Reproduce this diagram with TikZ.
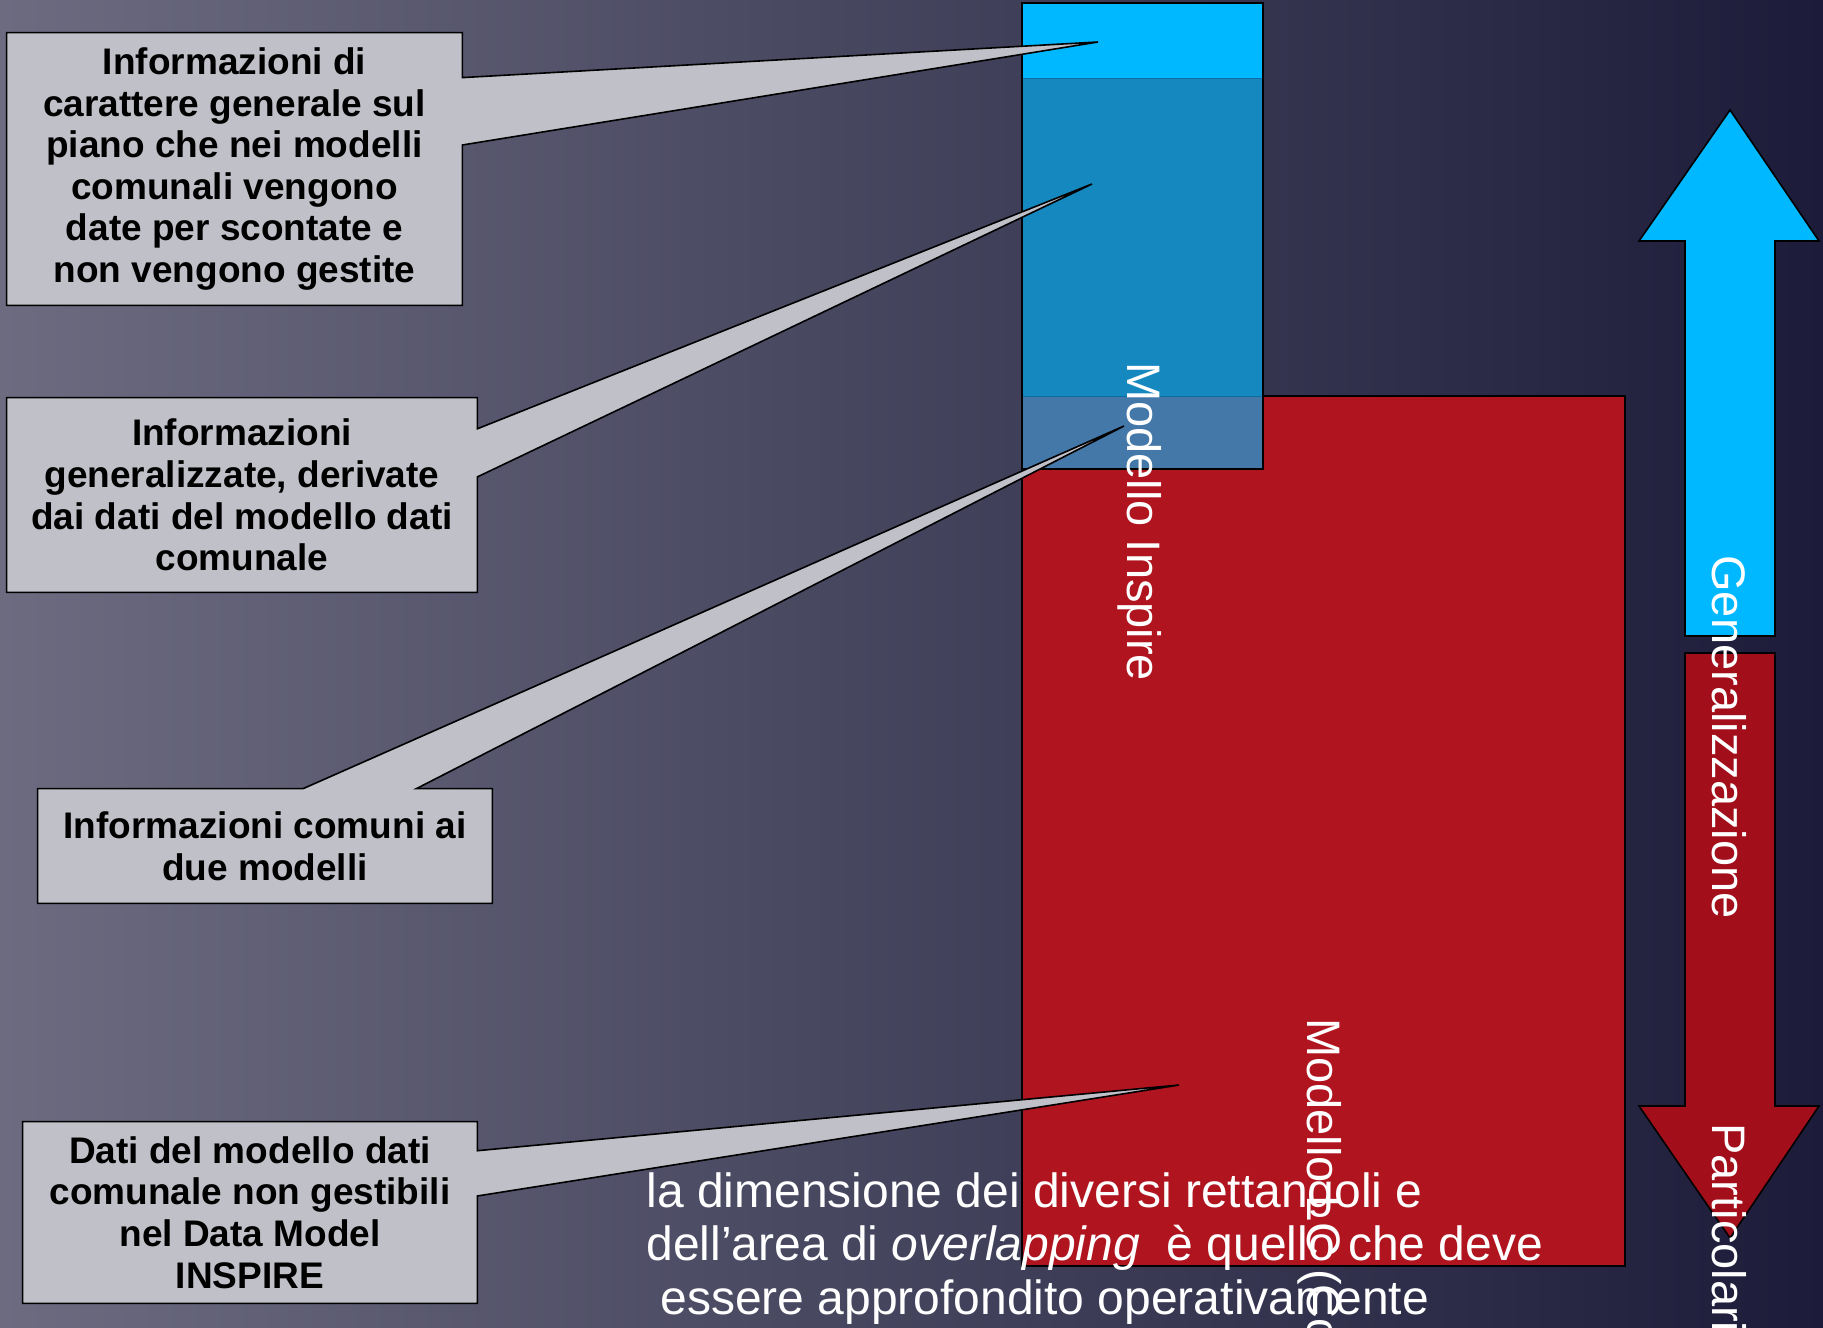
\documentclass[tikz,border=0pt]{standalone}
\usepackage{fontspec}
\setmainfont{Liberation Sans}
\usetikzlibrary{positioning, calc}

\definecolor{bgleft}{RGB}{108,107,128}
\definecolor{bgright}{RGB}{28,28,58}
\definecolor{cyanband}{RGB}{0,184,255}
\definecolor{bluebody}{RGB}{22,136,192}
\definecolor{blueline}{RGB}{10,110,160}
\definecolor{overlap}{RGB}{68,120,168}
\definecolor{redbody}{RGB}{176,20,30}
\definecolor{redarrow}{RGB}{162,14,26}
\definecolor{calloutfill}{RGB}{192,192,200}

\pgfdeclarelayer{back}
\pgfdeclarelayer{mid}
\pgfsetlayers{back,mid,main}

\begin{document}
\begin{tikzpicture}[
    x=0.5pt, y=-0.5pt,
    callout/.style={fill=calloutfill, draw=black, line width=0.8pt},
    note/.style={inner sep=0pt, align=center,
      font=\bfseries\fontsize{18.5}{20.8}\selectfont},
    vlabel/.style={rotate=-90, anchor=base west, inner sep=0pt, text=white,
      font=\fontsize{23.5}{26}\selectfont}]

  \useasboundingbox (0,0) rectangle (1823,1327);
  \clip (0,0) rectangle (1823,1327);

  \begin{pgfonlayer}{back}
    \shade[left color=bgleft, right color=bgright] (0,0) rectangle (1823,1327);

    % models
    \draw[fill=redbody, line width=0.8pt] (1022,396) rectangle (1625,1266);
    \fill[cyanband] (1022,3) rectangle (1263,78);
    \fill[bluebody] (1022,78) rectangle (1263,396);
    \fill[overlap] (1022,396) rectangle (1263,469);
    \draw[blueline] (1022,78) -- (1263,78);
    \draw[blueline] (1022,396) -- (1263,396);
    \draw[line width=0.8pt] (1022,3) rectangle (1263,469);

    % arrows
    \draw[fill=cyanband, line width=0.8pt] (1685,636) -- (1685,241) -- (1639,241)
      -- (1730,110) -- (1819,241) -- (1775,241) -- (1775,636) -- cycle;
    \draw[fill=redarrow, line width=0.8pt] (1685,653) -- (1775,653) -- (1775,1106)
      -- (1819,1106) -- (1730,1238) -- (1639,1106) -- (1685,1106) -- cycle;
  \end{pgfonlayer}

  % callouts
  \node[note, minimum width=227.5pt, minimum height=136pt] (c-general) at (234.5,169)
    {Informazioni di\\carattere generale sul\\piano che nei modelli\\comunali vengono\\date per scontate e\\non vengono gestite};
  \node[note, minimum width=235pt, minimum height=97pt] (c-derived) at (242,495)
    {Informazioni\\generalizzate, derivate\\dai dati del modello dati\\comunale};
  \node[note, minimum width=227pt, minimum height=57pt] (c-common) at (265,846)
    {Informazioni comuni ai\\due modelli};
  \node[note, minimum width=227pt, minimum height=90.5pt] (c-local) at (250,1212.5)
    {Dati del modello dati\\comunale non gestibili\\nel Data Model\\INSPIRE};

  \coordinate (t-general) at (1098,42);
  \coordinate (t-derived) at (1092,184);
  \coordinate (t-common) at (1124,426);
  \coordinate (t-local) at (1179,1085);

  \begin{pgfonlayer}{mid}
    \path[callout] (c-general.north west) -- (c-general.north east)
      -- ($(c-general.north east)!0.165!(c-general.south east)$) -- (t-general)
      -- ($(c-general.north east)!0.412!(c-general.south east)$)
      -- (c-general.south east) -- (c-general.south west) -- cycle;
    \path[callout] (c-derived.north west) -- (c-derived.north east)
      -- ($(c-derived.north east)!0.16!(c-derived.south east)$) -- (t-derived)
      -- ($(c-derived.north east)!0.407!(c-derived.south east)$)
      -- (c-derived.south east) -- (c-derived.south west) -- cycle;
    \path[callout] (c-common.north west)
      -- ($(c-common.north west)!0.584!(c-common.north east)$) -- (t-common)
      -- ($(c-common.north west)!0.833!(c-common.north east)$)
      -- (c-common.north east) -- (c-common.south east) -- (c-common.south west) -- cycle;
    \path[callout] (c-local.north west) -- (c-local.north east)
      -- ($(c-local.north east)!0.16!(c-local.south east)$) -- (t-local)
      -- ($(c-local.north east)!0.409!(c-local.south east)$)
      -- (c-local.south east) -- (c-local.south west) -- cycle;
  \end{pgfonlayer}

  % vertical labels
  \node[vlabel] (m-inspire) at (1127,362) {Modello Inspire};
  \node[vlabel] (m-comune) at (1307,1018) {Modello LC (Comunale)};
  \node[vlabel] (generalize) at (1712,555) {Generalizzazione};
  \node[vlabel] (detail) at (1712,1123) {Particolarità};

  % remark
  \node[anchor=north west, align=left, inner sep=0pt, text=white,
    font=\fontsize{24}{26.8}\selectfont] (remark) at (646,1172)
    {la dimensione dei diversi rettangoli e\\
     dell’area di \textit{overlapping}\ \ è quello che deve\\
     \hspace*{7pt}essere approfondito operativamente};
\end{tikzpicture}
\end{document}
